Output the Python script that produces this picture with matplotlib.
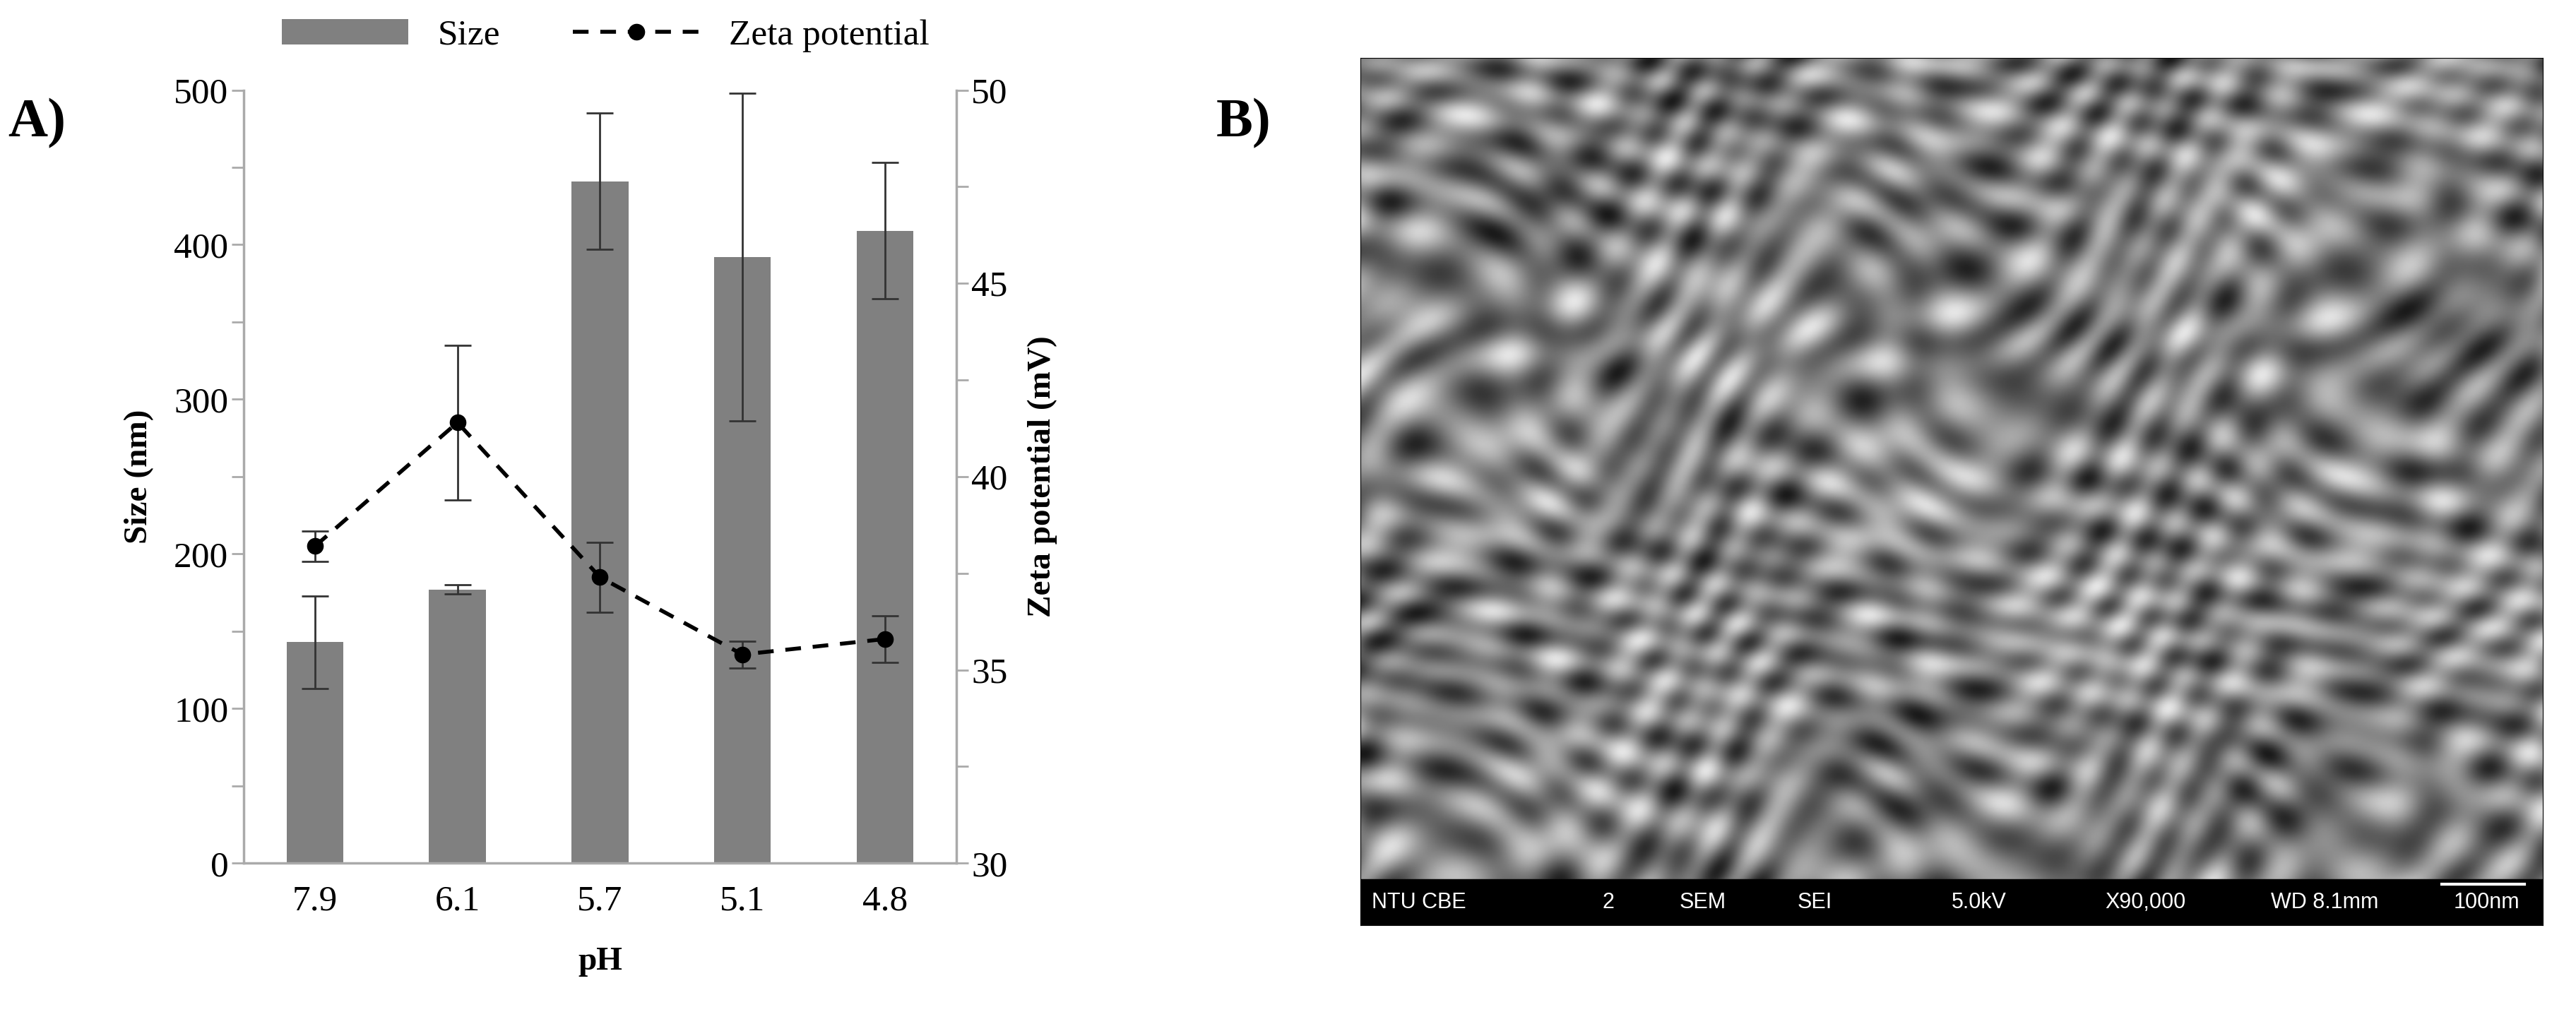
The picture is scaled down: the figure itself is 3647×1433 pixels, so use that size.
import numpy as np
import matplotlib
matplotlib.use("Agg")
import matplotlib.pyplot as plt
from matplotlib.lines import Line2D

ph = ["7.9", "6.1", "5.7", "5.1", "4.8"]
size = [143, 177, 441, 392, 409]
size_err = [30, 3, 44, 106, 44]
zeta = [38.2, 41.4, 37.4, 35.4, 35.8]
zeta_err = [0.4, 2.0, 0.9, 0.35, 0.6]

plt.rcParams['font.family'] = ['Liberation Serif', 'DejaVu Serif']
fig = plt.figure(figsize=(36.47, 14.33), dpi=100)
ax = fig.add_axes([0.0946, 0.147, 0.2766, 0.764])
x = np.arange(len(ph))
bars = ax.bar(x, size, width=0.4, color='#808080', yerr=size_err,
              error_kw=dict(ecolor='#333333', elinewidth=2, capsize=14, capthick=2), label='Size')
ax.set_ylim(0, 500)
ax.set_xlim(-0.5, 4.5)
ax.set_yticks(range(0, 501, 100))
ax.set_yticks(range(50, 500, 100), minor=True)
ax.set_xticks(x)
ax.set_xticklabels(ph)
ax.tick_params(labelsize=37, length=12, width=2, color='#aaaaaa')
ax.tick_params(axis='x', length=0, pad=22)
ax.tick_params(which='minor', length=12, width=2, color='#aaaaaa')
for s in ['top', 'right']:
    ax.spines[s].set_visible(False)
for s in ['left', 'bottom']:
    ax.spines[s].set_color('#aaaaaa'); ax.spines[s].set_linewidth(2.5)
ax.set_ylabel('Size (nm)', fontsize=34, fontweight='bold', labelpad=20)
ax.set_xlabel('pH', fontsize=34, fontweight='bold', labelpad=30)

ax2 = ax.twinx()
ax2.set_ylim(30, 50)
ax2.set_yticks(range(30, 51, 5))
ax2.set_yticks(np.arange(32.5, 50, 5), minor=True)
ax2.errorbar(x, zeta, yerr=zeta_err, color='black', ls='--', lw=4, dashes=(4, 3),
             marker='o', ms=16, ecolor='#333333', elinewidth=2, capsize=14, capthick=2)
for s in ['top', 'left', 'bottom']:
    ax2.spines[s].set_visible(False)
ax2.spines['right'].set_color('#aaaaaa'); ax2.spines['right'].set_linewidth(2.5)
ax2.tick_params(labelsize=37, length=12, width=2, color='#aaaaaa')
ax2.tick_params(which='minor', length=12, width=2, color='#aaaaaa')
ax2.set_ylabel('Zeta potential (mV)', fontsize=34, fontweight='bold', labelpad=20)

proxy = Line2D([], [], color='black', ls='--', lw=4, dashes=(4, 3), marker='o', ms=16)
fig.legend([bars, proxy], ['Size', 'Zeta potential'], loc='center', bbox_to_anchor=(0.235, 0.965),
           ncol=2, frameon=False, fontsize=37, handlelength=3.5, columnspacing=2)
fig.text(0.003, 0.865, 'A)', fontsize=56, fontweight='bold')
fig.text(0.472, 0.865, 'B)', fontsize=56, fontweight='bold')

# SEM-like panel (decorative texture)
axi = fig.add_axes([0.528, 0.086, 0.459, 0.857])
yy, xx = np.mgrid[0:600, 0:820]
tex = (np.sin(xx * 0.07 + np.sin(yy * 0.03) * 3) * np.cos(yy * 0.08 + np.sin(xx * 0.025) * 3)
       + 0.6 * np.sin(xx * 0.13 + yy * 0.1 + np.cos(xx * 0.02) * 4)
       + 0.5 * np.cos(yy * 0.17 - xx * 0.05 + np.sin(yy * 0.015) * 5))
axi.imshow(tex, cmap='gray', vmin=-2.6, vmax=2.6, aspect='auto', extent=[0, 1, 0.053, 1])
axi.add_patch(plt.Rectangle((0, 0), 1, 0.053, color='black'))
axi.set_xlim(0, 1); axi.set_ylim(0, 1)
axi.set_xticks([]); axi.set_yticks([])
labels = [(0.01, 'NTU CBE'), (0.205, '2'), (0.27, 'SEM'), (0.37, 'SEI'), (0.5, '5.0kV'),
          (0.63, 'X90,000'), (0.77, 'WD 8.1mm'), (0.925, '100nm')]
for xp, t in labels:
    axi.text(xp, 0.026, t, color='white', fontsize=22, family='Liberation Sans', va='center')
axi.plot([0.915, 0.985], [0.047, 0.047], color='white', lw=3)
fig.savefig('out.png', dpi=100)
